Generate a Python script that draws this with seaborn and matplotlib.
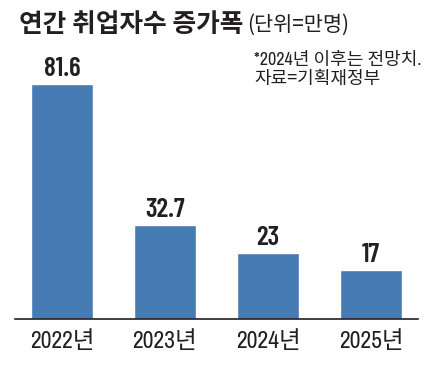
import matplotlib
matplotlib.use("Agg")
import matplotlib.pyplot as plt
import seaborn as sns

# data
years = ["2022년", "2023년", "2024년", "2025년"]
increase = [81.6, 32.7, 23, 17]

title = "연간 취업자수 증가폭"
unit = "(단위=만명)"
note1 = "*2024년 이후는 전망치."
note2 = "자료=기획재정부"

BAR_COLOR = "#477bb4"
TEXT_COLOR = "#231f20"
NARROW_BOLD = ["Barlow Condensed", "DejaVu Sans"]
KR = ["Noto Sans CJK KR", "DejaVu Sans"]
TICK_FONT = ["Archivo Narrow", "Noto Sans CJK KR", "DejaVu Sans"]

sns.set_style("white")
plt.rcParams["font.family"] = KR

W, H = 440, 369
fig = plt.figure(figsize=(W / 100, H / 100), dpi=100)

# axes placed in pixel coordinates
ax_left, ax_right, ax_bottom, ax_top = 15, 418, 319, 40
ax = fig.add_axes([ax_left / W, (H - ax_bottom) / H,
                   (ax_right - ax_left) / W, (ax_bottom - ax_top) / H])

sns.barplot(x=years, y=increase, color=BAR_COLOR, saturation=1,
            width=0.6, ax=ax)
ax.set_xlim(-0.456, 3.456)
ax.set_ylim(0, 96.9)

for c in ax.containers:
    ax.bar_label(c, fmt="{:g}", padding=2, fontsize=19.5, fontweight=600,
                 family=NARROW_BOLD, color=TEXT_COLOR)

for s in ["top", "left", "right"]:
    ax.spines[s].set_visible(False)
ax.spines["bottom"].set_color(TEXT_COLOR)
ax.spines["bottom"].set_linewidth(1.2)
ax.set_yticks([])
ax.set_xlabel("")
ax.set_ylabel("")
ax.tick_params(axis="x", length=0, pad=8)
for lab in ax.get_xticklabels():
    lab.set_fontfamily(TICK_FONT)
    lab.set_fontsize(17)
    lab.set_color(TEXT_COLOR)

# title and notes
fig.text(19 / W, 1 - 25 / H, title, fontsize=18.5, fontweight="bold",
         family=KR, color=TEXT_COLOR, va="center", ha="left")
fig.text(247 / W, 1 - 25 / H, unit, fontsize=15, family=KR,
         color=TEXT_COLOR, va="center", ha="left")
fig.text(254 / W, 1 - 60 / H, note1, fontsize=13, family=TICK_FONT,
         color=TEXT_COLOR, va="center", ha="left")
fig.text(254 / W, 1 - 79 / H, note2, fontsize=13, family=KR,
         color=TEXT_COLOR, va="center", ha="left")

fig.savefig("out.png", dpi=100)
